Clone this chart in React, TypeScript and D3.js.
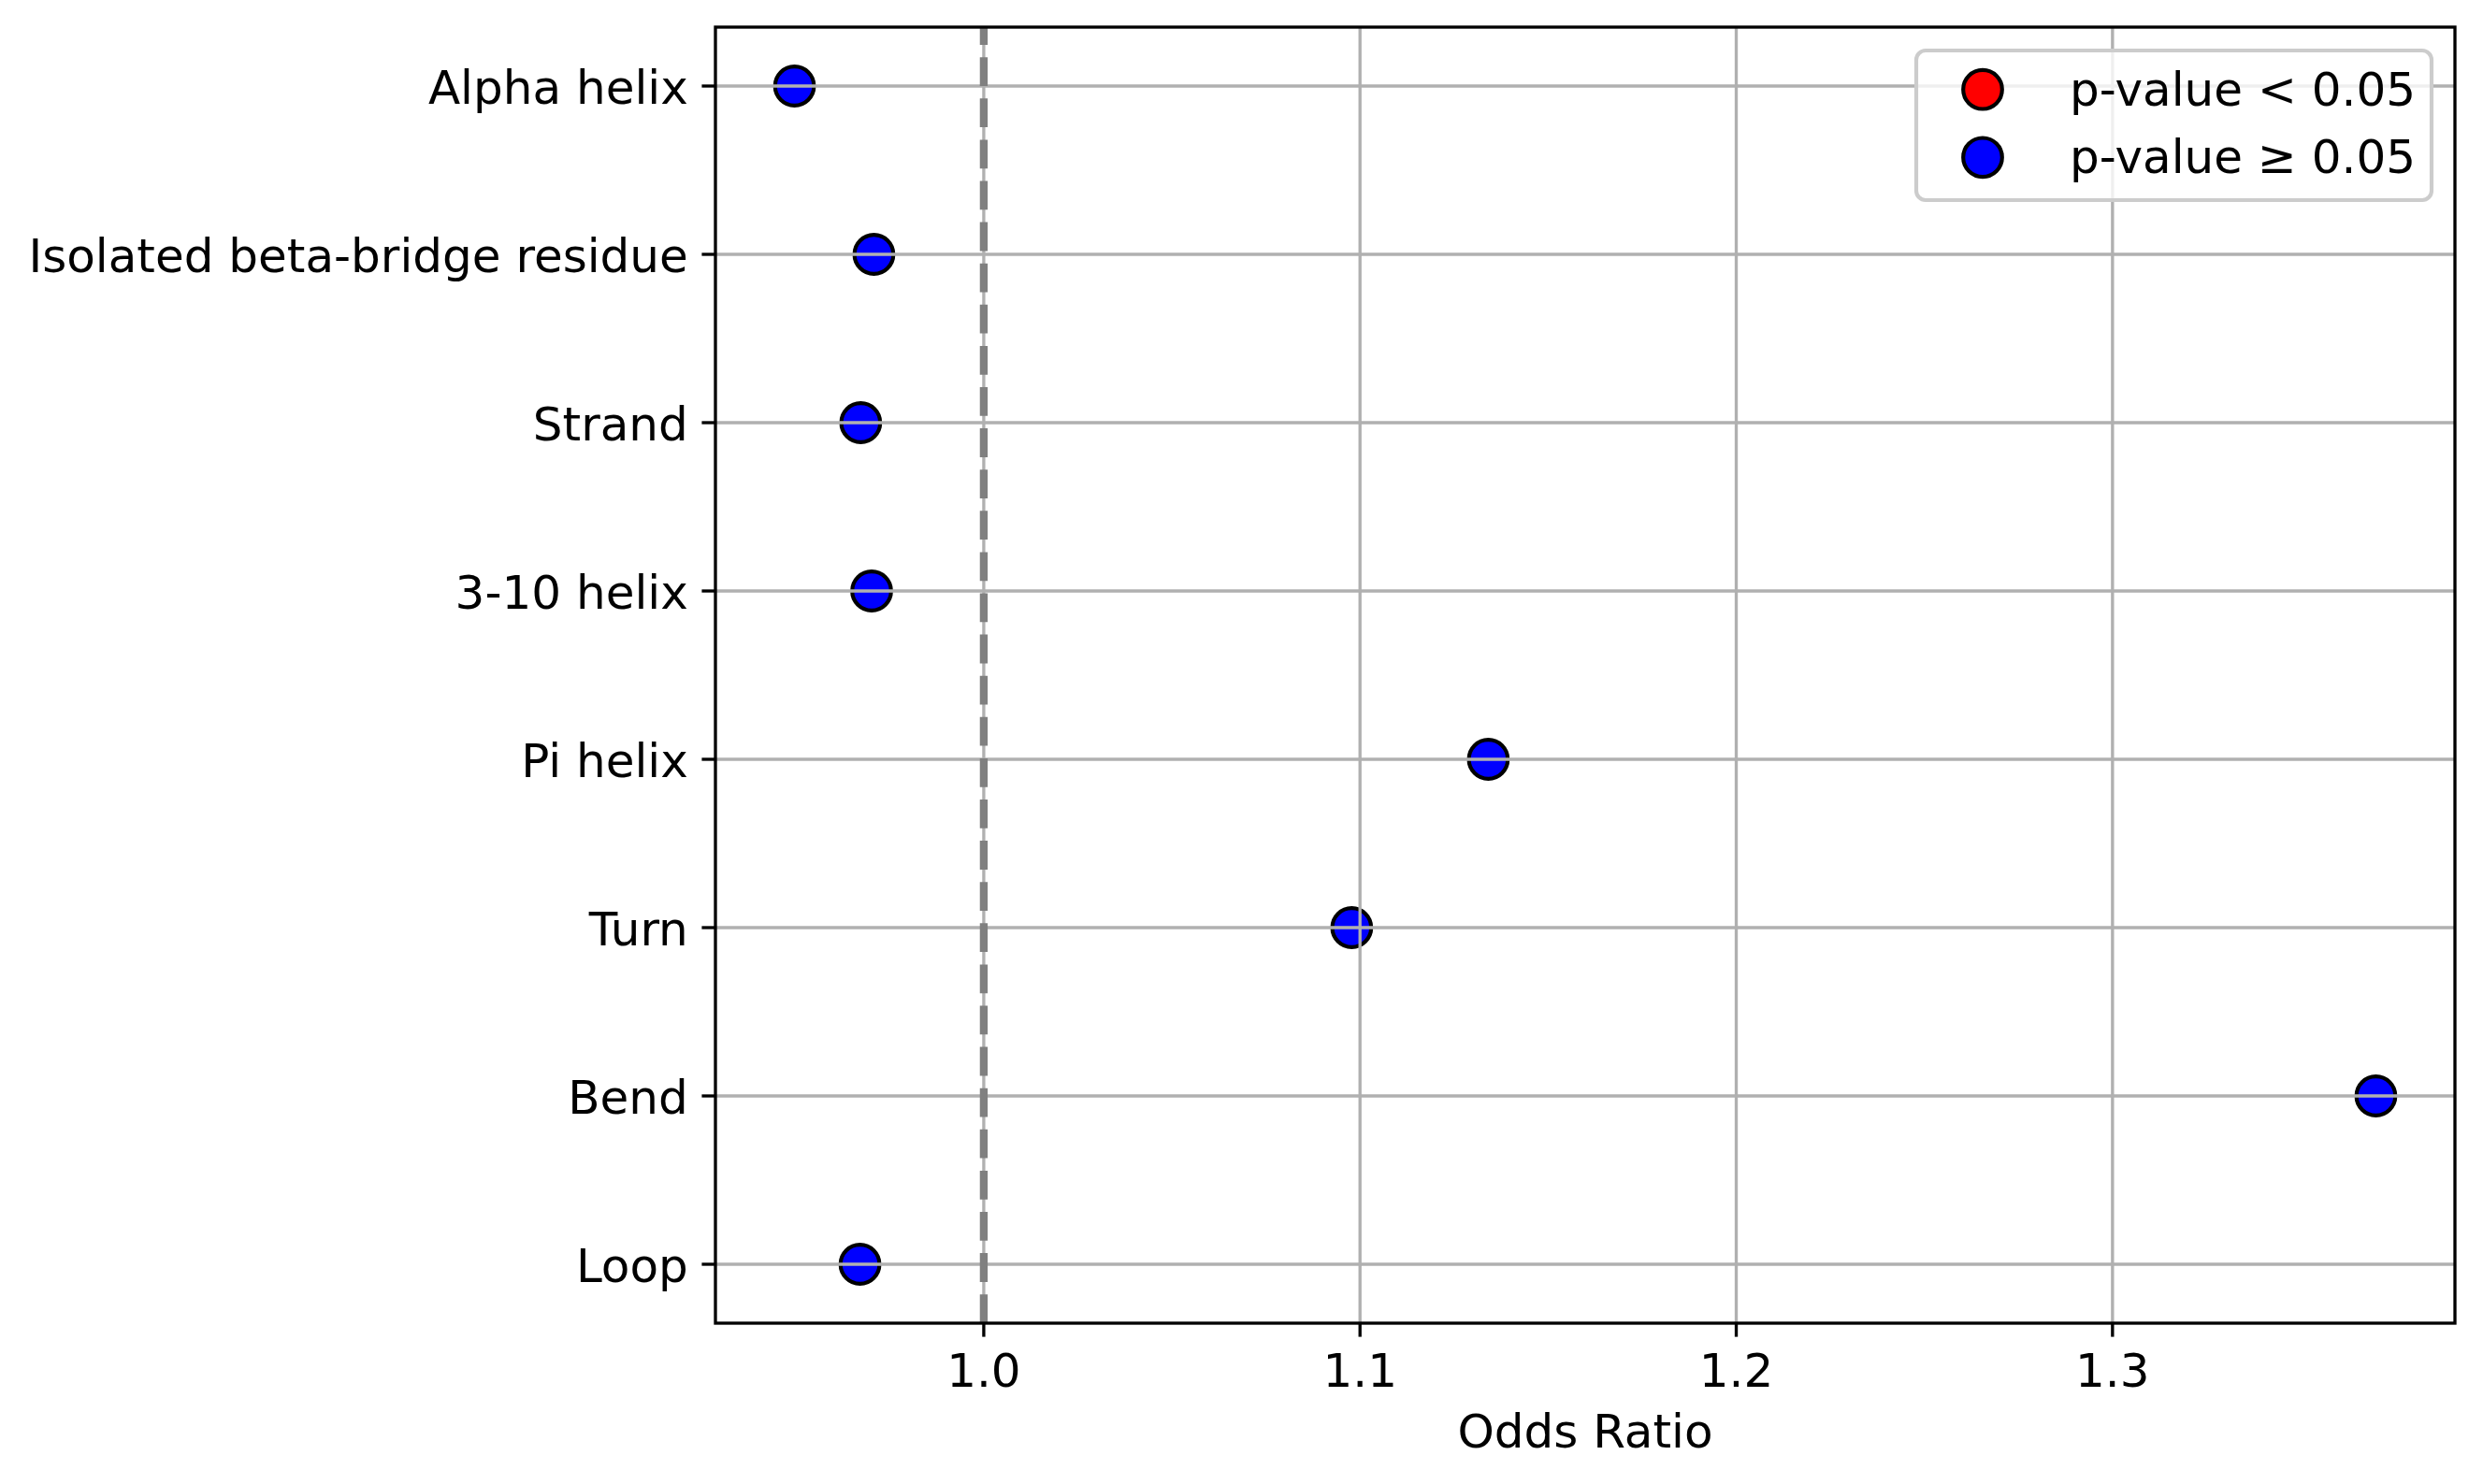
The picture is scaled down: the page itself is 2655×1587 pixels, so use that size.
import { useEffect } from "react";
import * as d3 from "d3";

// categories top to bottom, odds ratios
const categories = [
  "Alpha helix",
  "Isolated beta-bridge residue",
  "Strand",
  "3-10 helix",
  "Pi helix",
  "Turn",
  "Bend",
  "Loop",
];
const oddsRatios = [0.9497, 0.9708, 0.9673, 0.9702, 1.1341, 1.0978, 1.37, 0.9671];
// every point is blue in the picture: none has p < 0.05
const significant = [false, false, false, false, false, false, false, false];
const xTicks = [1.0, 1.1, 1.2, 1.3];
const legendItems = [
  { label: "p-value < 0.05", color: "red" },
  { label: "p-value \u2265 0.05", color: "blue" },
];

const W = 2655;
const H = 1587;
const FONT = "DejaVu Sans, Liberation Sans, sans-serif";

const App = () => {
  useEffect(() => {
    document.body.style.margin = "0";
  }, []);

  const plot = { left: 765, right: 2625, top: 29, bottom: 1415 };

  const [lo, hi] = d3.extent(oddsRatios) as [number, number];
  const padX = (hi - lo) * 0.05;
  const x = d3
    .scaleLinear()
    .domain([lo - padX, hi + padX])
    .range([plot.left, plot.right]);

  const y = d3
    .scaleLinear()
    .domain([-0.35, categories.length - 1 + 0.35])
    .range([plot.top, plot.bottom]);

  const lw = 3.33; // 0.8pt at 300 dpi
  const tickLen = 14.6;

  return (
    <svg width={W} height={H} style={{ display: "block", background: "#fff" }}>
      <rect x={0} y={0} width={W} height={H} fill="#fff" />

      {/* points (below the grid, like matplotlib's default) */}
      <g>
        {oddsRatios.map((v, i) => (
          <circle
            key={categories[i]}
            cx={x(v)}
            cy={y(i)}
            r={20.8}
            fill={significant[i] ? "red" : "blue"}
            stroke="black"
            strokeWidth={4.17}
          />
        ))}
      </g>

      {/* grid */}
      <g stroke="#b0b0b0" strokeWidth={lw}>
        {xTicks.map((t) => (
          <line key={t} x1={x(t)} x2={x(t)} y1={plot.top} y2={plot.bottom} />
        ))}
        {categories.map((c, i) => (
          <line key={c} x1={plot.left} x2={plot.right} y1={y(i)} y2={y(i)} />
        ))}
      </g>

      {/* reference line at 1 */}
      <line
        x1={x(1)}
        x2={x(1)}
        y1={plot.bottom}
        y2={plot.top}
        stroke="gray"
        strokeWidth={8.33}
        strokeDasharray="30.8 13.3"
      />

      {/* spines */}
      <rect
        x={plot.left}
        y={plot.top}
        width={plot.right - plot.left}
        height={plot.bottom - plot.top}
        fill="none"
        stroke="black"
        strokeWidth={lw}
      />

      {/* x axis */}
      <g fontFamily={FONT} fontSize={50} textAnchor="middle">
        {xTicks.map((t) => (
          <g key={t}>
            <line
              x1={x(t)}
              x2={x(t)}
              y1={plot.bottom}
              y2={plot.bottom + tickLen}
              stroke="black"
              strokeWidth={lw}
            />
            <text x={x(t)} y={1483}>
              {d3.format(".1f")(t)}
            </text>
          </g>
        ))}
        <text x={(plot.left + plot.right) / 2} y={1548}>
          Odds Ratio
        </text>
      </g>

      {/* y axis */}
      <g fontFamily={FONT} fontSize={50} textAnchor="end">
        {categories.map((c, i) => (
          <g key={c}>
            <line
              x1={plot.left - tickLen}
              x2={plot.left}
              y1={y(i)}
              y2={y(i)}
              stroke="black"
              strokeWidth={lw}
            />
            <text x={plot.left - tickLen - 14.6} y={y(i)} dy={19}>
              {c}
            </text>
          </g>
        ))}
      </g>

      {/* legend */}
      <g fontFamily={FONT} fontSize={50}>
        <rect
          x={2049}
          y={54}
          width={551}
          height={160}
          rx={10}
          fill="white"
          fillOpacity={0.8}
          stroke="#cccccc"
          strokeWidth={4.17}
        />
        {legendItems.map((d, i) => (
          <g key={d.label} transform={`translate(0,${95.7 + i * 72.6})`}>
            <circle cx={2120} cy={0} r={20.8} fill={d.color} stroke="black" strokeWidth={4.17} />
            <text x={2213} y={17}>
              {d.label}
            </text>
          </g>
        ))}
      </g>
    </svg>
  );
};

export default App;
